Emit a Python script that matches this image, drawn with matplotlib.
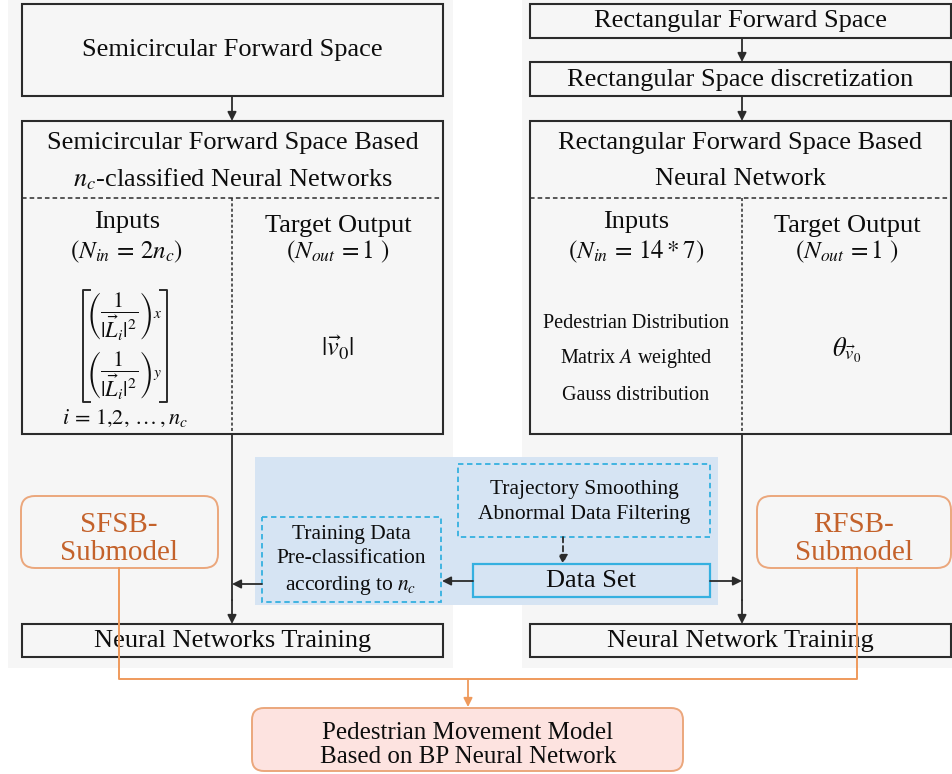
import matplotlib.pyplot as plt
from matplotlib.patches import Rectangle, FancyBboxPatch

plt.rcParams['font.family'] = ['Liberation Serif', 'DejaVu Serif']
plt.rcParams['mathtext.fontset'] = 'stix'

# ---------------------------------------------------------------- texts
left_top = "Semicircular Forward Space"
left_title = ["Semicircular Forward Space Based", r"$n_c$-classified Neural Networks"]
left_inputs = ["Inputs", r"$(N_{in}\,=\,2n_c)$"]
left_rows = [r"$\left(\dfrac{1}{|\vec{L}_i|^2}\right)_x$",
             r"$\left(\dfrac{1}{|\vec{L}_i|^2}\right)_y$"]
left_index = r"$i\,=\,1{,}2,\,\ldots\,,n_c$"
left_target = ["Target Output", r"$(N_{out}\,=1\ )$", r"$|\vec{v}_0|$"]
left_train = "Neural Networks Training"

right_top = ["Rectangular Forward Space", "Rectangular Space discretization"]
right_title = ["Rectangular Forward Space Based", "Neural Network"]
right_inputs = ["Inputs", r"$(N_{in}\,=\,14*7)$"]
right_desc = ["Pedestrian Distribution", r"Matrix $A$ weighted", "Gauss distribution"]
right_target = ["Target Output", r"$(N_{out}\,=1\ )$", r"$\theta_{\vec{v}_0}$"]
right_train = "Neural Network Training"

data_boxes = ["Trajectory Smoothing\nAbnormal Data Filtering", "Data Set",
              "Training Data\nPre-classification\n" + r"according to $n_c$"]
submodels = ["SFSB-\nSubmodel", "RFSB-\nSubmodel"]
final_box = "Pedestrian Movement Model\nBased on BP Neural Network"

# ---------------------------------------------------------------- colours
BLACK = '#2b2b2b'
PANEL = '#f6f6f6'
BLUE_BG = '#d6e4f3'
CYAN = '#35b0e0'
ORANGE_TXT = '#c4622b'
ORANGE_EDGE = '#eba77c'
ORANGE_LINE = '#ef9a5c'
PINK = '#fde3e0'

W, H = 952, 774
fig = plt.figure(figsize=(W / 100, H / 100), dpi=100)
ax = fig.add_axes([0, 0, 1, 1])
ax.set_xlim(0, W)
ax.set_ylim(H, 0)
ax.axis('off')


def box(x0, y0, x1, y1, fc='none', ec=BLACK, lw=1.5, ls='-', z=2):
    ax.add_patch(Rectangle((x0, y0), x1 - x0, y1 - y0, fc=fc, ec=ec, lw=lw, ls=ls, zorder=z))


def rbox(x0, y0, x1, y1, fc, ec, r=14):
    ax.add_patch(FancyBboxPatch((x0, y0), x1 - x0, y1 - y0,
                                boxstyle=f"round,pad=0,rounding_size={r}",
                                fc=fc, ec=ec, lw=1.4, zorder=3))


def arrow(x0, y0, x1, y1, color=BLACK, ls='-'):
    ax.annotate('', xy=(x1, y1), xytext=(x0, y0),
                arrowprops=dict(arrowstyle='-|>', color=color, lw=1.3, ls=ls,
                                mutation_scale=13, shrinkA=0, shrinkB=0), zorder=4)


def txt(x, y, s, size=19, color='#0d0d0d', **kw):
    ax.text(x, y, s, ha='center', va='center', fontsize=size, color=color, zorder=5, **kw)


# background panels
box(8, 0, 453, 668, fc=PANEL, ec='none', z=0)
box(522, 0, 952, 668, fc=PANEL, ec='none', z=0)
box(255, 457, 718, 605, fc=BLUE_BG, ec='none', z=1)

# ---------------- left column
lx0, lx1, lmid = 22, 443, 232
box(lx0, 4, lx1, 96)
txt((lx0 + lx1) / 2, 50, left_top)
arrow(lmid, 96, lmid, 121)
box(lx0, 121, lx1, 434)
txt((lx0 + lx1) / 2, 143, left_title[0])
txt((lx0 + lx1) / 2, 179, left_title[1])
ax.plot([lx0, lx1], [198, 198], color=BLACK, lw=1.1, ls=(0, (3, 2)), zorder=3)
ax.plot([lmid, lmid], [198, 434], color=BLACK, lw=1.1, ls=(0, (2, 1.5)), zorder=3)
txt(127, 222, left_inputs[0])
txt(127, 252, left_inputs[1], size=18)
txt(124, 316, left_rows[0], size=16)
txt(124, 375, left_rows[1], size=16)
# square brackets around the two rows
for bx, d in [(83, 1), (167, -1)]:
    ax.plot([bx + 7 * d, bx, bx, bx + 7 * d], [290, 290, 402, 402], color=BLACK, lw=1.4, zorder=5)
txt(125, 418, left_index, size=16)
txt(338, 226, left_target[0])
txt(338, 252, left_target[1], size=18)
txt(338, 348, left_target[2], size=19)

# ---------------- right column
rx0, rx1, rmid = 530, 951, 742
box(rx0, 4, rx1, 38)
txt((rx0 + rx1) / 2, 21, right_top[0])
arrow(rmid, 38, rmid, 62)
box(rx0, 62, rx1, 96)
txt((rx0 + rx1) / 2, 80, right_top[1])
arrow(rmid, 96, rmid, 121)
box(rx0, 121, rx1, 434)
txt((rx0 + rx1) / 2, 143, right_title[0])
txt((rx0 + rx1) / 2, 179, right_title[1])
ax.plot([rx0, rx1], [198, 198], color=BLACK, lw=1.1, ls=(0, (3, 2)), zorder=3)
ax.plot([rmid, rmid], [198, 434], color=BLACK, lw=1.1, ls=(0, (2, 1.5)), zorder=3)
txt(636, 222, right_inputs[0])
txt(636, 252, right_inputs[1], size=18)
for i, s in enumerate(right_desc):
    txt(636, 323 + 36 * i, s, size=14.5)
txt(847, 226, right_target[0])
txt(847, 252, right_target[1], size=18)
txt(847, 350, right_target[2], size=19)

# ---------------- data preparation block
box(458, 464, 710, 537, ec=CYAN, lw=1.3, ls=(0, (3, 2)), z=2)
txt(584, 502, data_boxes[0], size=15.5, linespacing=1.45)
arrow(563, 537, 563, 564, ls=(0, (3, 2)))
box(473, 564, 710, 597, ec=CYAN, lw=1.6, z=2)
txt(591, 581, data_boxes[1], size=19)
box(262, 517, 441, 602, ec=CYAN, lw=1.3, ls=(0, (3, 2)), z=2)
txt(351, 561, data_boxes[2], size=15.5, linespacing=1.38)
arrow(473, 581, 442, 581)
arrow(262, 584, lmid, 584)
arrow(710, 581, rmid, 581)

# ---------------- training boxes
ax.plot([lmid, lmid], [434, 600], color=BLACK, lw=1.3, zorder=3)
arrow(lmid, 600, lmid, 624)
ax.plot([rmid, rmid], [434, 600], color=BLACK, lw=1.3, zorder=3)
arrow(rmid, 600, rmid, 624)
box(lx0, 624, lx1, 657)
txt((lx0 + lx1) / 2, 641, left_train)
box(rx0, 624, rx1, 657)
txt((rx0 + rx1) / 2, 641, right_train)

# ---------------- submodels and final model
rbox(21, 496, 218, 568, fc='none', ec=ORANGE_EDGE)
txt(119, 539, submodels[0], size=21, color=ORANGE_TXT, linespacing=1.1)
rbox(757, 496, 951, 568, fc='none', ec=ORANGE_EDGE)
txt(854, 539, submodels[1], size=21, color=ORANGE_TXT, linespacing=1.1)
ax.plot([119, 119, 857, 857], [568, 679, 679, 568], color=ORANGE_LINE, lw=1.4, zorder=6)
arrow(468, 679, 468, 707, color=ORANGE_LINE)
rbox(252, 708, 683, 771, fc=PINK, ec=ORANGE_EDGE, r=12)
txt(468, 745, final_box, size=18, linespacing=1.12)

fig.savefig('out.png', dpi=100)
